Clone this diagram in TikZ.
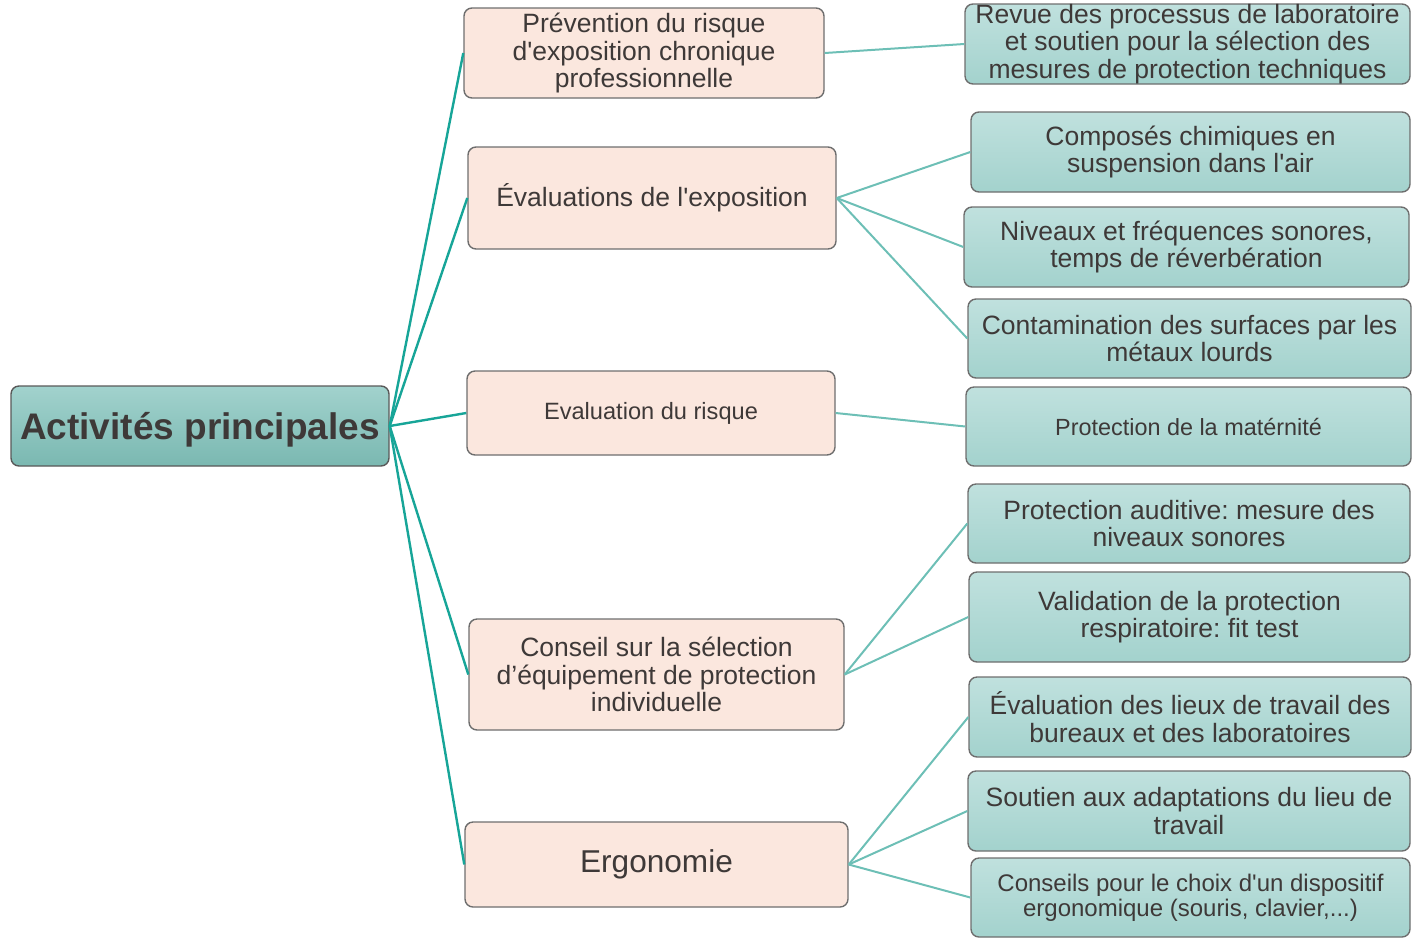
\documentclass[tikz,border=0pt]{standalone}
\usepackage{fontspec}
\setmainfont{Liberation Sans}
\frenchspacing
\newcommand{\ap}{\textquotesingle}
\definecolor{txt}{HTML}{3E3938}
\definecolor{rootTop}{HTML}{A2D2CD}
\definecolor{rootBot}{HTML}{7AB8B1}
\definecolor{leafTop}{HTML}{C0E1DE}
\definecolor{leafBot}{HTML}{A3D2CD}
\definecolor{midFill}{HTML}{FBE7DE}
\definecolor{bordr}{HTML}{6E6E6E}
\definecolor{lineA}{HTML}{17A598}
\definecolor{lineB}{HTML}{6DBFB6}
\tikzset{
  basebox/.style={draw=bordr, line width=0.7pt, rounded corners=4pt, align=center,
    text=txt, inner sep=0pt, font=\fontsize{13.25}{13.8}\selectfont},
  rootbox/.style={basebox, draw=black!65, top color=rootTop, bottom color=rootBot,
    font=\fontsize{18.5}{20}\selectfont\bfseries},
  midbox/.style={basebox, fill=midFill},
  leafbox/.style={basebox, top color=leafTop, bottom color=leafBot},
  linkA/.style={draw=lineA, line width=1.2pt},
  linkB/.style={draw=lineB, line width=1pt},
}
\begin{document}
\begin{tikzpicture}[x=0.5pt,y=-0.5pt]
\useasboundingbox (0,0) rectangle (1412,938);
% root
\node[rootbox, minimum width=189pt, minimum height=40pt] (root) at (200,426) {\raisebox{-2pt}[\height][\depth]{Activités principales}};
% middle
\node[midbox, minimum width=180pt, minimum height=45pt] (m1) at (644,53) {Prévention du risque\\d\ap exposition chronique\\professionnelle};
\node[midbox, minimum width=184pt, minimum height=51pt] (m2) at (652,198) {Évaluations de l\ap exposition};
\node[midbox, minimum width=184pt, minimum height=42pt, font=\fontsize{11.8}{13}\selectfont] (m3) at (651,413) {Evaluation du risque};
\node[midbox, minimum width=187.5pt, minimum height=55.5pt] (m4) at (656.5,674.5) {Conseil sur la sélection\\d’équipement de protection\\individuelle};
\node[midbox, minimum width=191.5pt, minimum height=42.5pt, font=\fontsize{15.8}{17}\selectfont] (m5) at (656.5,864.5) {Ergonomie};
% leaves
\node[leafbox, minimum width=222.5pt, minimum height=40pt] (r1) at (1187.5,44) {Revue des processus de laboratoire\\et soutien pour la sélection des\\mesures de protection techniques};
\node[leafbox, minimum width=219.5pt, minimum height=40pt] (r2) at (1190.5,152) {Composés chimiques en\\suspension dans l\ap air};
\node[leafbox, minimum width=222.5pt, minimum height=40pt] (r3) at (1186.5,247) {Niveaux et fréquences sonores,\\temps de réverbération};
\node[leafbox, minimum width=221.5pt, minimum height=39.5pt] (r4) at (1189.5,338.5) {Contamination des surfaces par les\\métaux lourds};
\node[leafbox, minimum width=222.5pt, minimum height=39.5pt, font=\fontsize{11.7}{13}\selectfont] (r5) at (1188.5,426.5) {Protection de la matérnité};
\node[leafbox, minimum width=221pt, minimum height=39.5pt] (r6) at (1189,523.5) {Protection auditive: mesure des\\niveaux sonores};
\node[leafbox, minimum width=220.5pt, minimum height=45pt] (r7) at (1189.5,617) {Validation de la protection\\respiratoire: fit test};
\node[leafbox, minimum width=221pt, minimum height=40pt] (r8) at (1190,717) {Évaluation des lieux de travail des\\bureaux et des laboratoires};
\node[leafbox, minimum width=221pt, minimum height=40pt] (r9) at (1189,811) {Soutien aux adaptations du lieu de\\travail};
\node[leafbox, minimum width=219.5pt, minimum height=39.5pt, font=\fontsize{12}{12.6}\selectfont] (r10) at (1190.5,897.5) {Conseils pour le choix d\ap un dispositif\\ergonomique (souris, clavier,...)};
% links root -> middle
\foreach \m in {m1,m2,m3,m4,m5} \draw[linkA] (root.east) -- (\m.west);
% links middle -> leaves
\draw[linkB] (m1.east) -- (r1.west);
\foreach \r in {r2,r3,r4} \draw[linkB] (m2.east) -- (\r.west);
\draw[linkB] (m3.east) -- (r5.west);
\foreach \r in {r6,r7} \draw[linkB] (m4.east) -- (\r.west);
\foreach \r in {r8,r9,r10} \draw[linkB] (m5.east) -- (\r.west);
\end{tikzpicture}
\end{document}
